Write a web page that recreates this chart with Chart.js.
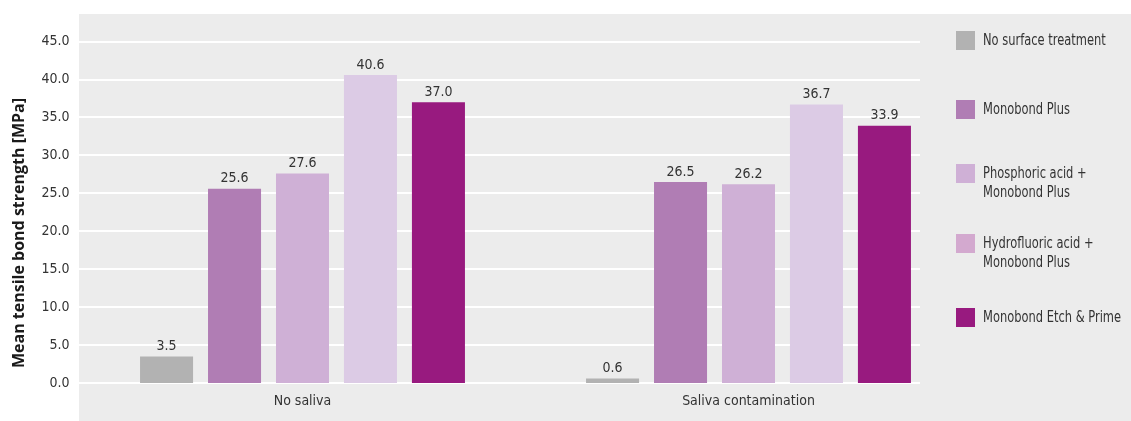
<!DOCTYPE html>
<html>
<head>
<meta charset="utf-8">
<script src="https://cdn.jsdelivr.net/npm/chart.js@4"></script>
<style>
  html, body { margin:0; padding:0; background:#fff; }
  #wrap { position:relative; width:1131px; height:421px; }
  #panel { position:absolute; left:79px; top:14px; width:1052px; height:407px; background:#ececec; }
  #wrap canvas { position:absolute; left:0; top:0; }
  .leg { position:absolute; left:956px; font:15px "DejaVu Sans Condensed","DejaVu Sans",sans-serif; color:#333; }
  .leg i { position:absolute; left:0; top:0; width:19px; height:19px; }
  .leg span { position:absolute; left:27px; top:0; line-height:19px; white-space:nowrap;
              transform:scaleX(0.85); transform-origin:0 0; }
</style>
</head>
<body>
<div id="wrap">
  <div id="panel"></div>
  <canvas id="c" width="1131" height="421"></canvas>
  <div id="legend"></div>
</div>
<script>
/* ---------------- data ---------------- */
const groups = ["No saliva", "Saliva contamination"];
const seriesNames = [
  "No surface treatment",
  "Monobond Plus",
  "Phosphoric acid +\nMonobond Plus",
  "Hydrofluoric acid +\nMonobond Plus",
  "Monobond Etch & Prime"
];
const noSurface   = [3.5, 0.6];
const monobond    = [25.6, 26.5];
const phosphoric  = [27.6, 26.2];
const hydrofluor  = [40.6, 36.7];
const etchPrime   = [37.0, 33.9];
const yTicks = [0, 5, 10, 15, 20, 25, 30, 35, 40, 45];
const yTitle = "Mean tensile bond strength [MPa]";

const barColors    = ["#b2b2b2", "#b07db4", "#cfb0d6", "#dccbe5", "#981a7f"];
const legendColors = ["#b2b2b2", "#b07db4", "#cfb0d6", "#d3a9cf", "#981a7f"];
const legendTops   = [31, 100, 164, 234, 308];

const FONT = '"DejaVu Sans Condensed","DejaVu Sans",sans-serif';
const TXT = "#333333";

/* ---------------- legend (html) ---------------- */
let html = "";
seriesNames.forEach((n, i) => {
  html += `<div class="leg" style="top:${legendTops[i]}px"><i style="background:${legendColors[i]}"></i><span>${n.replace("\n","<br>")}</span></div>`;
});
document.getElementById("legend").innerHTML = html;

/* ---------------- plugins ---------------- */
const gridLines = {
  id: "gridLines",
  beforeDatasetsDraw(chart) {
    const y = chart.scales.y, ctx = chart.ctx;
    ctx.save();
    ctx.strokeStyle = "#ffffff";
    ctx.lineWidth = 2;
    yTicks.forEach(v => {
      const py = Math.round(y.getPixelForValue(v));
      ctx.beginPath();
      ctx.moveTo(79, py);
      ctx.lineTo(920, py);
      ctx.stroke();
    });
    ctx.restore();
  }
};

const valueLabels = {
  id: "valueLabels",
  afterDatasetsDraw(chart) {
    const ctx = chart.ctx;
    ctx.save();
    ctx.font = "14px " + FONT;
    ctx.fillStyle = TXT;
    ctx.textAlign = "center";
    ctx.textBaseline = "bottom";
    chart.data.datasets.forEach((ds, di) => {
      chart.getDatasetMeta(di).data.forEach((bar, i) => {
        ctx.fillText(ds.data[i].toFixed(1), bar.x, bar.y - 3);
      });
    });
    ctx.restore();
  }
};

const axisTitle = {
  id: "axisTitle",
  afterDraw(chart) {
    const ctx = chart.ctx;
    ctx.save();
    ctx.translate(19, 233);
    ctx.rotate(-Math.PI / 2);
    ctx.font = 'bold 16px "Open Sans","Noto Sans",sans-serif';
    ctx.fillStyle = "#1a1a1a";
    ctx.textAlign = "center";
    ctx.textBaseline = "middle";
    ctx.fillText(yTitle, 0, 0);
    ctx.restore();
  }
};

/* ---------------- chart ---------------- */
const seriesData = [noSurface, monobond, phosphoric, hydrofluor, etchPrime];

new Chart(document.getElementById("c"), {
  type: "bar",
  data: {
    labels: groups,
    datasets: seriesData.map((d, i) => ({
      label: seriesNames[i],
      data: d,
      backgroundColor: barColors[i],
      categoryPercentage: 0.762,
      barPercentage: 0.78
    }))
  },
  options: {
    responsive: false,
    animation: false,
    events: [],
    layout: { padding: { top: 41.6, right: 159.5, bottom: 0, left: 0 } },
    plugins: { legend: { display: false }, tooltip: { enabled: false } },
    scales: {
      x: {
        grid: { display: false, drawTicks: false },
        border: { display: false },
        ticks: { color: TXT, font: { family: FONT, size: 14 }, padding: 10 },
        afterFit(s) { s.height = 38; }
      },
      y: {
        min: 0, max: 45,
        afterBuildTicks(s) { s.ticks = yTicks.map(v => ({ value: v })); },
        grid: { display: false, drawTicks: false },
        border: { display: false },
        ticks: { color: TXT, font: { family: FONT, size: 14 }, padding: 10,
                 callback: v => Number(v).toFixed(1) },
        afterFit(s) { s.width = 79.5; }
      }
    }
  },
  plugins: [gridLines, valueLabels, axisTitle]
});
</script>
</body>
</html>
